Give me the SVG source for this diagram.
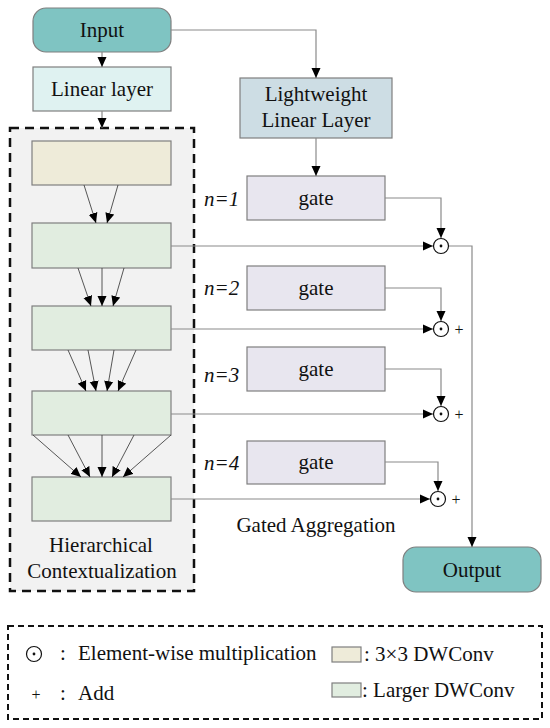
<svg xmlns="http://www.w3.org/2000/svg" width="550" height="728" viewBox="0 0 550 728">
<style>
text{font-family:"Liberation Serif","Times New Roman",serif;font-size:21px;fill:#111;}
.c{text-anchor:middle;}
.n{font-style:italic;}
.box{stroke:#7f7f7f;stroke-width:1.2;}
.teal{fill:#7fc4c2;}
.lin{fill:#dff2f1;}
.lw{fill:#cddde4;}
.gate{fill:#e8e6ef;}
.beige{fill:#eeebd9;}
.green{fill:#e1ede0;}
.ln{fill:none;stroke:#8a8a8a;stroke-width:1.2;}
.hl{fill:none;stroke:#444;stroke-width:0.9;}
.op{fill:#fff;stroke:#111;stroke-width:1.2;}
</style>
<defs>
<marker id="ah" markerUnits="userSpaceOnUse" markerWidth="10" markerHeight="10" refX="10" refY="5" orient="auto">
<path d="M0,0.5 L10,5 L0,9.5 z" fill="#000"/>
</marker>
</defs>

<rect id="hier-bg" x="10" y="128" width="184" height="463" fill="#f2f2f2" stroke="#111" stroke-width="2.5" stroke-dasharray="9,6"/>

<g id="input"><rect class="box teal" x="33" y="8" width="138" height="44" rx="13"/><text class="c" x="102" y="37">Input</text></g>
<g id="linear"><rect class="box lin" x="33" y="67" width="138" height="44"/><text class="c" x="102" y="96">Linear layer</text></g>
<g id="dw3"><rect class="box beige" x="32" y="141" width="139" height="44"/></g>
<g id="dwl1"><rect class="box green" x="32" y="223" width="139" height="45"/></g>
<g id="dwl2"><rect class="box green" x="32" y="306" width="139" height="44"/></g>
<g id="dwl3"><rect class="box green" x="32" y="391" width="139" height="44"/></g>
<g id="dwl4"><rect class="box green" x="32" y="477" width="139" height="44"/></g>
<g id="hier-label"><text class="c" x="101" y="552">Hierarchical</text><text class="c" x="102" y="578">Contextualization</text></g>

<g id="lwl"><rect class="box lw" x="240" y="78" width="152" height="60"/><text class="c" x="316" y="101">Lightweight</text><text class="c" x="316" y="127">Linear Layer</text></g>
<g id="gate1"><rect class="box gate" x="247" y="176" width="138" height="44"/><text class="c" x="316" y="205">gate</text><text class="n" x="204" y="206">n=1</text></g>
<g id="gate2"><rect class="box gate" x="247" y="266" width="138" height="44"/><text class="c" x="316" y="295">gate</text><text class="n" x="204" y="295">n=2</text></g>
<g id="gate3"><rect class="box gate" x="247" y="347" width="138" height="44"/><text class="c" x="316" y="376">gate</text><text class="n" x="204" y="382">n=3</text></g>
<g id="gate4"><rect class="box gate" x="247" y="441" width="138" height="43"/><text class="c" x="316" y="469">gate</text><text class="n" x="204" y="470">n=4</text></g>
<g id="agg-label"><text class="c" x="316" y="532">Gated Aggregation</text></g>
<g id="output"><rect class="box teal" x="403" y="547" width="138" height="45" rx="13"/><text class="c" x="472" y="577">Output</text></g>

<g id="connectors">
<path class="ln" d="M102,52 V67" marker-end="url(#ah)"/>
<path class="ln" d="M102,111 V128" marker-end="url(#ah)"/>
<path class="ln" d="M171,30 H316 V78" marker-end="url(#ah)"/>
<path class="ln" d="M316,138 V176" marker-end="url(#ah)"/>

<path class="hl" d="M84,185 L96,223" marker-end="url(#ah)"/>
<path class="hl" d="M118,185 L107,223" marker-end="url(#ah)"/>

<path class="hl" d="M78,268 L91,306" marker-end="url(#ah)"/>
<path class="hl" d="M102,268 L102,306" marker-end="url(#ah)"/>
<path class="hl" d="M124,268 L113,306" marker-end="url(#ah)"/>

<path class="hl" d="M68,350 L86,391" marker-end="url(#ah)"/>
<path class="hl" d="M88,350 L96,391" marker-end="url(#ah)"/>
<path class="hl" d="M114,350 L107,391" marker-end="url(#ah)"/>
<path class="hl" d="M136,350 L118,391" marker-end="url(#ah)"/>

<path class="hl" d="M33,435 L81,477" marker-end="url(#ah)"/>
<path class="hl" d="M68,435 L90,477" marker-end="url(#ah)"/>
<path class="hl" d="M102,435 L102,477" marker-end="url(#ah)"/>
<path class="hl" d="M134,435 L112,477" marker-end="url(#ah)"/>
<path class="hl" d="M171,435 L123,477" marker-end="url(#ah)"/>

<path class="ln" d="M171,246 H433" marker-end="url(#ah)"/>
<path class="ln" d="M171,329 H433" marker-end="url(#ah)"/>
<path class="ln" d="M171,414 H433" marker-end="url(#ah)"/>
<path class="ln" d="M171,499 H430" marker-end="url(#ah)"/>

<path class="ln" d="M385,198 H441 V238" marker-end="url(#ah)"/>
<path class="ln" d="M385,288 H441 V321" marker-end="url(#ah)"/>
<path class="ln" d="M385,369 H441 V406" marker-end="url(#ah)"/>
<path class="ln" d="M385,462 H438 V491" marker-end="url(#ah)"/>

<path class="ln" d="M449,246 H472 V547" marker-end="url(#ah)"/>
</g>

<g id="ops">
<circle class="op" cx="441" cy="246" r="7.5"/><circle cx="441" cy="246" r="1.4" fill="#111"/>
<circle class="op" cx="441" cy="329" r="7.5"/><circle cx="441" cy="329" r="1.4" fill="#111"/>
<circle class="op" cx="441" cy="414" r="7.5"/><circle cx="441" cy="414" r="1.4" fill="#111"/>
<circle class="op" cx="438" cy="499" r="7.5"/><circle cx="438" cy="499" r="1.4" fill="#111"/>
<text class="c" x="459" y="335" style="font-size:16px">+</text>
<text class="c" x="459" y="420" style="font-size:16px">+</text>
<text class="c" x="456" y="505" style="font-size:16px">+</text>
</g>

<g id="legend">
<rect x="8" y="626" width="534" height="93" fill="none" stroke="#111" stroke-width="2" stroke-dasharray="6,4"/>
<circle class="op" cx="34" cy="654" r="7.5"/><circle cx="34" cy="654" r="1.4" fill="#111"/>
<text x="60" y="660">:</text>
<text x="78" y="660">Element-wise multiplication</text>
<text class="c" x="36" y="700" style="font-size:16px">+</text>
<text x="60" y="700">:</text>
<text x="78" y="700">Add</text>
<rect class="box beige" x="332" y="647" width="29" height="15"/>
<text x="364" y="661">:  3×3 DWConv</text>
<rect class="box green" x="332" y="683" width="29" height="14"/>
<text x="362" y="697">: Larger DWConv</text>
</g>
</svg>
